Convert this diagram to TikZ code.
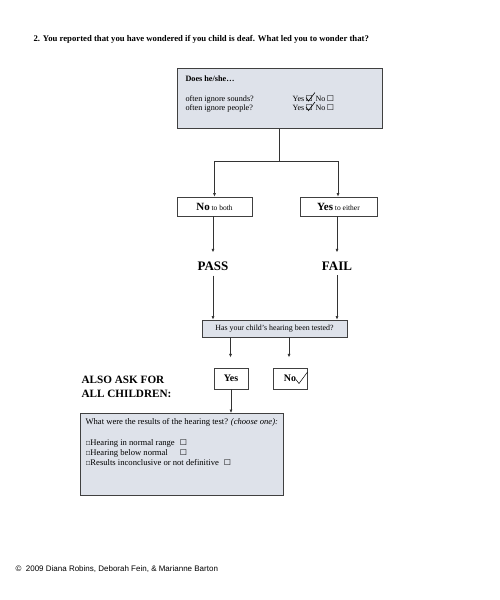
\documentclass[tikz,border=0pt]{standalone}
\usepackage{fontspec}
\setmainfont{Liberation Serif}
\newfontfamily\symfont{DejaVu Sans}
\newfontfamily\armfont{Liberation Sans}
\usetikzlibrary{arrows.meta}
\newcommand*{\chk}{{\symfont\fontsize{5.5}{5}\selectfont\symbol{"2610}}}
\newcommand*{\chkbig}{{\symfont\fontsize{8}{5}\selectfont\symbol{"2610}}}
\definecolor{boxfill}{RGB}{222,226,234}

\tikzset{
    fillbox/.style={draw=black!75, line width=0.8pt, fill=boxfill, inner sep=0pt},
    plainbox/.style={draw=black!75, line width=0.7pt, fill=white, inner sep=0pt},
    arr/.style={-{Latex[length=3.5pt,width=3pt]}, line width=0.6pt, black!80},
    conn/.style={line width=0.6pt, black!80},
}

\begin{document}
\begin{tikzpicture}[x=1pt,y=-1pt]
    \useasboundingbox (0,0) rectangle (500,600);
    \node[anchor=base west, font=\fontsize{8.7}{9}\selectfont\bfseries] (title) at (30,41) {2. You reported that you have wondered if you child is deaf. What led you to wonder that?};
    % first question
    \node[fillbox, minimum width=205pt, minimum height=60pt, anchor=north west] (ask) at (177,68) {};
    \node[anchor=base west, font=\fontsize{8.2}{8}\selectfont\bfseries] (askhead) at (182,81) {Does he/she\ldots};
    \node[anchor=base west, font=\fontsize{8.2}{8}\selectfont] (sounds) at (182,101) {often ignore sounds?};
    \node[anchor=base west, font=\fontsize{8.2}{8}\selectfont] (people) at (182,110.5) {often ignore people?};
    \node[anchor=base west, font=\fontsize{8}{8}\selectfont] (ynsounds) at (289,101) {Yes\,\chkbig\kern3pt No\,\chkbig};
    \node[anchor=base west, font=\fontsize{8}{8}\selectfont] (ynpeople) at (289,110.5) {Yes\,\chkbig\kern3pt No\,\chkbig};
    \draw[line width=0.6pt] (306,97.5) -- (308.5,101) -- (315,92.5);
    \draw[line width=0.6pt] (306,107) -- (308.5,110.5) -- (315,102);
    % split
    \coordinate (split) at (279,161);
    \coordinate (splitL) at (214.5,161);
    \coordinate (splitR) at (338,161);
    \node[plainbox, minimum width=75pt, minimum height=19pt] (noboth) at (214.5,206.5) {\fontsize{11}{10}\selectfont\bfseries No\fontsize{7.5}{8}\selectfont\mdseries\ to both};
    \node[plainbox, minimum width=77pt, minimum height=19pt] (yeseither) at (338.5,206.5) {\fontsize{11}{10}\selectfont\bfseries Yes\fontsize{7.5}{8}\selectfont\mdseries\ to either};
    \draw[conn] (ask.south -| split) -- (split);
    \draw[conn] (splitL) -- (splitR);
    \draw[arr] (splitL) -- (noboth.north);
    \draw[arr] (splitR) -- (yeseither.north -| splitR);
    \node[font=\fontsize{13}{14}\selectfont\bfseries, inner sep=1pt] (pass) at (213,266) {PASS};
    \node[font=\fontsize{13}{14}\selectfont\bfseries, inner sep=1pt] (fail) at (337,266) {FAIL};
    \draw[arr] (noboth.south -| pass) -- ++(0,36);
    \draw[arr] (yeseither.south -| fail) -- ++(0,36);
    % hearing test
    \node[fillbox, minimum width=145pt, minimum height=17pt] (tested) at (274.5,328.5) {\fontsize{7.9}{8}\selectfont Has your child's hearing been tested?};
    \coordinate (testL) at (230.5,337);
    \coordinate (testR) at (289,337);
    \draw[arr] (pass.south) ++(0,4) -- (pass.south |- tested.north);
    \draw[arr] (fail.south) ++(0,4) -- (fail.south |- tested.north);
    \node[plainbox, minimum width=34pt, minimum height=21pt] (yes) at (231,378.5) {\fontsize{10}{10}\selectfont\bfseries Yes};
    \node[plainbox, minimum width=34pt, minimum height=21pt] (no) at (290,378.5) {\fontsize{10}{10}\selectfont\bfseries No\hspace{13pt}};
    \draw[line width=0.5pt] (296,379.5) -- (299,383.5) -- (307.5,372);
    \draw[arr] (testL |- tested.south) -- ++(0,20);
    \draw[arr] (testR |- tested.south) -- ++(0,20);
    \node[anchor=base west, font=\fontsize{11.2}{12}\selectfont\bfseries] (alsoask) at (78,383) {ALSO ASK FOR};
    \node[anchor=base west, font=\fontsize{11.2}{12}\selectfont\bfseries] (allkids) at (78,397.5) {ALL CHILDREN:};
    % results
    \node[fillbox, minimum width=203pt, minimum height=82pt, anchor=north west] (results) at (80,413) {};
    \draw[arr] (yes.south) -- (yes.south |- results.north);
    \node[anchor=base west, font=\fontsize{8.6}{8}\selectfont] (reshead) at (82,424) {What were the results of the hearing test? \textit{(choose one):}};
    \node[anchor=base west, font=\fontsize{8.6}{8}\selectfont] (normal) at (82,445) {\chk Hearing in normal range\hspace{5pt}\chkbig};
    \node[anchor=base west, font=\fontsize{8.6}{8}\selectfont] (below) at (82,455) {\chk Hearing below normal\hspace{12pt}\chkbig};
    \node[anchor=base west, font=\fontsize{8.6}{8}\selectfont] (unclear) at (82,465) {\chk Results inconclusive or not definitive\hspace{5pt}\chkbig};
    % copyright
    \node[anchor=base west, font=\armfont\fontsize{8}{8}\selectfont] (copy) at (12,571) {\symbol{"00A9}\ \ 2009 Diana Robins, Deborah Fein, \& Marianne Barton};
\end{tikzpicture}
\end{document}
